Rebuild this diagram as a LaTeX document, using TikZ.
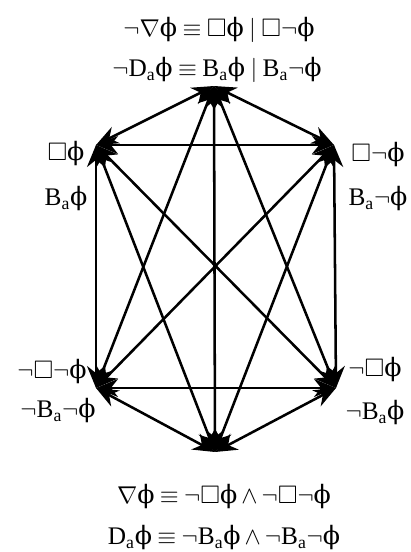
\documentclass[tikz,border=0pt]{standalone}
\usepackage{amsmath,amssymb}
\usepackage{fontspec}
\setmainfont{Liberation Serif}
\newfontfamily\phfont{DejaVu Serif}
\usepackage{tikz}
\usetikzlibrary{arrows.meta}
\newcommand{\ph}{\text{\phfont\upshape ϕ}}
\newcommand{\Ba}{\mathrm{B}_{\mathrm{a}}}
\newcommand{\Da}{\mathrm{D}_{\mathrm{a}}}
\newcommand{\lblfont}{\fontsize{18}{22}\selectfont\thickmuskip=4mu\relax\medmuskip=3mu\relax}

\begin{document}
\begin{tikzpicture}[
  x=0.025cm,y=-0.025cm,
  lbl/.style={inner sep=0pt,font=\lblfont},
  line/.style={{Stealth[length=5.5mm,width=4.5mm]}-{Stealth[length=5.5mm,width=4.5mm]},line width=1.8pt,draw=black}
]
\useasboundingbox (0,0) rectangle (410,552);
% corners of the hexagon
\coordinate (top) at (214,86);
\coordinate (ul) at (96,145);
\coordinate (ur) at (334,145);
\coordinate (ll) at (96,388);
\coordinate (lr) at (336,388);
\coordinate (bot) at (215,452);
% labels
\node[lbl] (toptext) at (219,30) {$\neg\nabla\ph\equiv\Box\ph\mid\Box\neg\ph$};
\node[lbl] (topbel) at (217,70) {$\neg\Da\ph\equiv\Ba\ph\mid\Ba\neg\ph$};
\node[lbl] (ulbox) at (66,154) {$\Box\ph$};
\node[lbl] (ulbel) at (66,199) {$\Ba\ph$};
\node[lbl] (urbox) at (378,155) {$\Box\neg\ph$};
\node[lbl] (urbel) at (378,199) {$\Ba\neg\ph$};
\node[lbl] (llbox) at (52,372) {$\neg\Box\neg\ph$};
\node[lbl] (llbel) at (58,411) {$\neg\Ba\neg\ph$};
\node[lbl] (lrbox) at (375,370) {$\neg\Box\ph$};
\node[lbl] (lrbel) at (375,413) {$\neg\Ba\ph$};
\node[lbl] (bottext) at (224,497) {$\nabla\ph\equiv\neg\Box\ph\wedge\neg\Box\neg\ph$};
\node[lbl] (botbel) at (224,538) {$\Da\ph\equiv\neg\Ba\ph\wedge\neg\Ba\neg\ph$};
% sides
\draw[line] (top)--(ul);
\draw[line] (top)--(ur);
\draw[line] (ul)--(ur);
\draw[line] (ul)--(ll);
\draw[line] (ur)--(lr);
\draw[line] (ll)--(lr);
\draw[line] (ll)--(bot);
\draw[line] (lr)--(bot);
% diagonals
\draw[line] (top)--(bot);
\draw[line] (top)--(ll);
\draw[line] (top)--(lr);
\draw[line] (ul)--(lr);
\draw[line] (ur)--(ll);
\draw[line] (ul)--(bot);
\draw[line] (ur)--(bot);
\end{tikzpicture}
\end{document}
